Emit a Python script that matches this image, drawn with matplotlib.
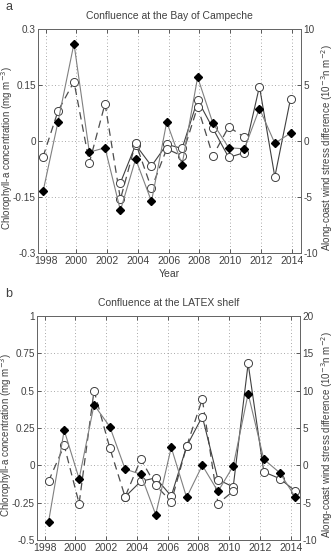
import numpy as np
import matplotlib
matplotlib.use('Agg')
import matplotlib.pyplot as plt

plt.rcParams['font.family'] = ['Liberation Sans', 'DejaVu Sans']
plt.rcParams['font.size'] = 7.5

# Bay of Campeche (panel a): decimal-year positions of the annual values
a_time = [1997.83, 1998.80, 1999.84, 2000.84, 2001.86, 2002.86, 2003.85, 2004.88,
          2005.87, 2006.87, 2007.88, 2008.87, 2009.90, 2010.92, 2011.90, 2012.90, 2013.92]
a_wind = [-4.5, 1.7, 8.7, -1.0, -0.6, -6.2, -1.6, -5.4, 1.7, -2.1, 5.7, 1.6, -0.6, -0.7,
          2.9, -0.2, 0.7]                      # wind stress difference (1e-3 N m-2)
a_chl1 = [-0.042, 0.08, 0.159, -0.058, 0.10, -0.156, -0.005, -0.127, -0.021, -0.04,
          0.092, -0.04, 0.038, 0.01]            # chl-a, dashed series (1998-2011)
a_chl2 = [-0.112, -0.01, -0.067, -0.009, -0.02, 0.11, 0.034, -0.044, -0.031, 0.146,
          -0.096, 0.113]                         # chl-a, solid series (2003-2014)

# LATEX shelf (panel b)
b_time = [1998.25, 1999.27, 2000.24, 2001.21, 2002.23, 2003.23, 2004.25, 2005.22,
          2006.23, 2007.23, 2008.25, 2009.27, 2010.26, 2011.23, 2012.25, 2013.29, 2014.31]
b_wind = [-7.6, 4.7, -1.8, 8.1, 5.2, -0.5, -1.2, -6.6, 2.4, -4.3, 0.0, -3.5, -0.1,
          9.6, 0.8, -1.0, -4.3]
b_chl1 = [-0.107, 0.133, -0.256, 0.5, 0.118, -0.211, 0.04, -0.133, -0.244, 0.127,
          0.444, -0.256, -0.173]
b_chl2 = [-0.211, -0.107, -0.084, -0.206, 0.127, 0.327, -0.096, -0.144, 0.682, -0.044,
          -0.089, -0.173]

panels = [
    dict(tag='a', title='Confluence at the Bay of Campeche', time=a_time, wind=a_wind,
         chl1=a_chl1, chl2=a_chl2, start2=5, ylim=(-0.3, 0.3),
         yticks=[-0.3, -0.15, 0, 0.15, 0.3], ylim2=(-10, 10), yticks2=[-10, -5, 0, 5, 10],
         rect=[0.1134, 0.5474, 0.785, 0.4007], xlabel=True),
    dict(tag='b', title='Confluence at the LATEX shelf', time=b_time, wind=b_wind,
         chl1=b_chl1, chl2=b_chl2, start2=5, ylim=(-0.5, 1.0),
         yticks=[-0.5, -0.25, 0, 0.25, 0.5, 0.75, 1], ylim2=(-10, 20),
         yticks2=[-10, -5, 0, 5, 10, 15, 20],
         rect=[0.1104, 0.034, 0.785, 0.4007], xlabel=False),
]

txt = '0.25'
fig = plt.figure(figsize=(3.35, 5.59), dpi=100)

for p in panels:
    ax = fig.add_axes(p['rect'])
    ax2 = ax.twinx()
    t = np.array(p['time'])

    n1 = len(p['chl1'])
    ax.plot(t[:n1], p['chl1'], color='0.3', lw=0.9, dashes=(6, 4), zorder=3)
    ax.plot(t[:n1], p['chl1'], 'o', mfc='white', mec='0.25', mew=0.7, ms=5.8, zorder=5)
    s = p['start2']
    ax.plot(t[s:s + len(p['chl2'])], p['chl2'], '-o', color='0.25', lw=0.8,
            mfc='white', mec='0.25', mew=0.7, ms=5.8, zorder=4)

    ax2.plot(t, p['wind'], '-D', color='0.5', lw=0.8, mfc='black', mec='black', ms=3.6)

    ax.set_xlim(1997.5, 2014.6)
    ax.set_ylim(*p['ylim'])
    ax.set_yticks(p['yticks'])
    ax.set_yticklabels(['%g' % v for v in p['yticks']])
    ax.set_xticks(np.arange(1998, 2015, 2))
    ax2.set_ylim(*p['ylim2'])
    ax2.set_yticks(p['yticks2'])
    ax2.set_yticklabels(['%g' % v for v in p['yticks2']])

    ax.grid(True, color='0.55', lw=0.6, dashes=(1, 3))
    ax.tick_params(direction='in', length=3, width=0.6, colors=txt, top=True,
                   labelsize=7.5, pad=2)
    ax.tick_params(axis='y', labelsize=7.2, pad=1.5)
    ax2.tick_params(direction='in', length=3, width=0.6, colors=txt, labelsize=7.2, pad=2)
    for a in (ax, ax2):
        for sp in a.spines.values():
            sp.set_color('0.4')
            sp.set_linewidth(0.7)

    r = p['rect']
    ymid = r[1] + r[3] * 0.47
    fig.text(r[0] - 0.093, ymid, 'Chlorophyll-a concentration (mg m$^{-3}$)', color=txt,
             fontsize=7, rotation=90, ha='center', va='center')
    fig.text(0.976, ymid, 'Along-coast wind stress difference (10$^{-3}$n m$^{-2}$)',
             color=txt, fontsize=7, rotation=90, ha='center', va='center')
    ax.set_title(p['title'], fontsize=7.5, color=txt, pad=7)
    if p['xlabel']:
        ax.set_xlabel('Year', color=txt, labelpad=2)
    fig.text(0.015, r[1] + r[3] + 0.04, p['tag'], fontsize=9, color=txt, va='center')

fig.savefig('out.png', dpi=100)
